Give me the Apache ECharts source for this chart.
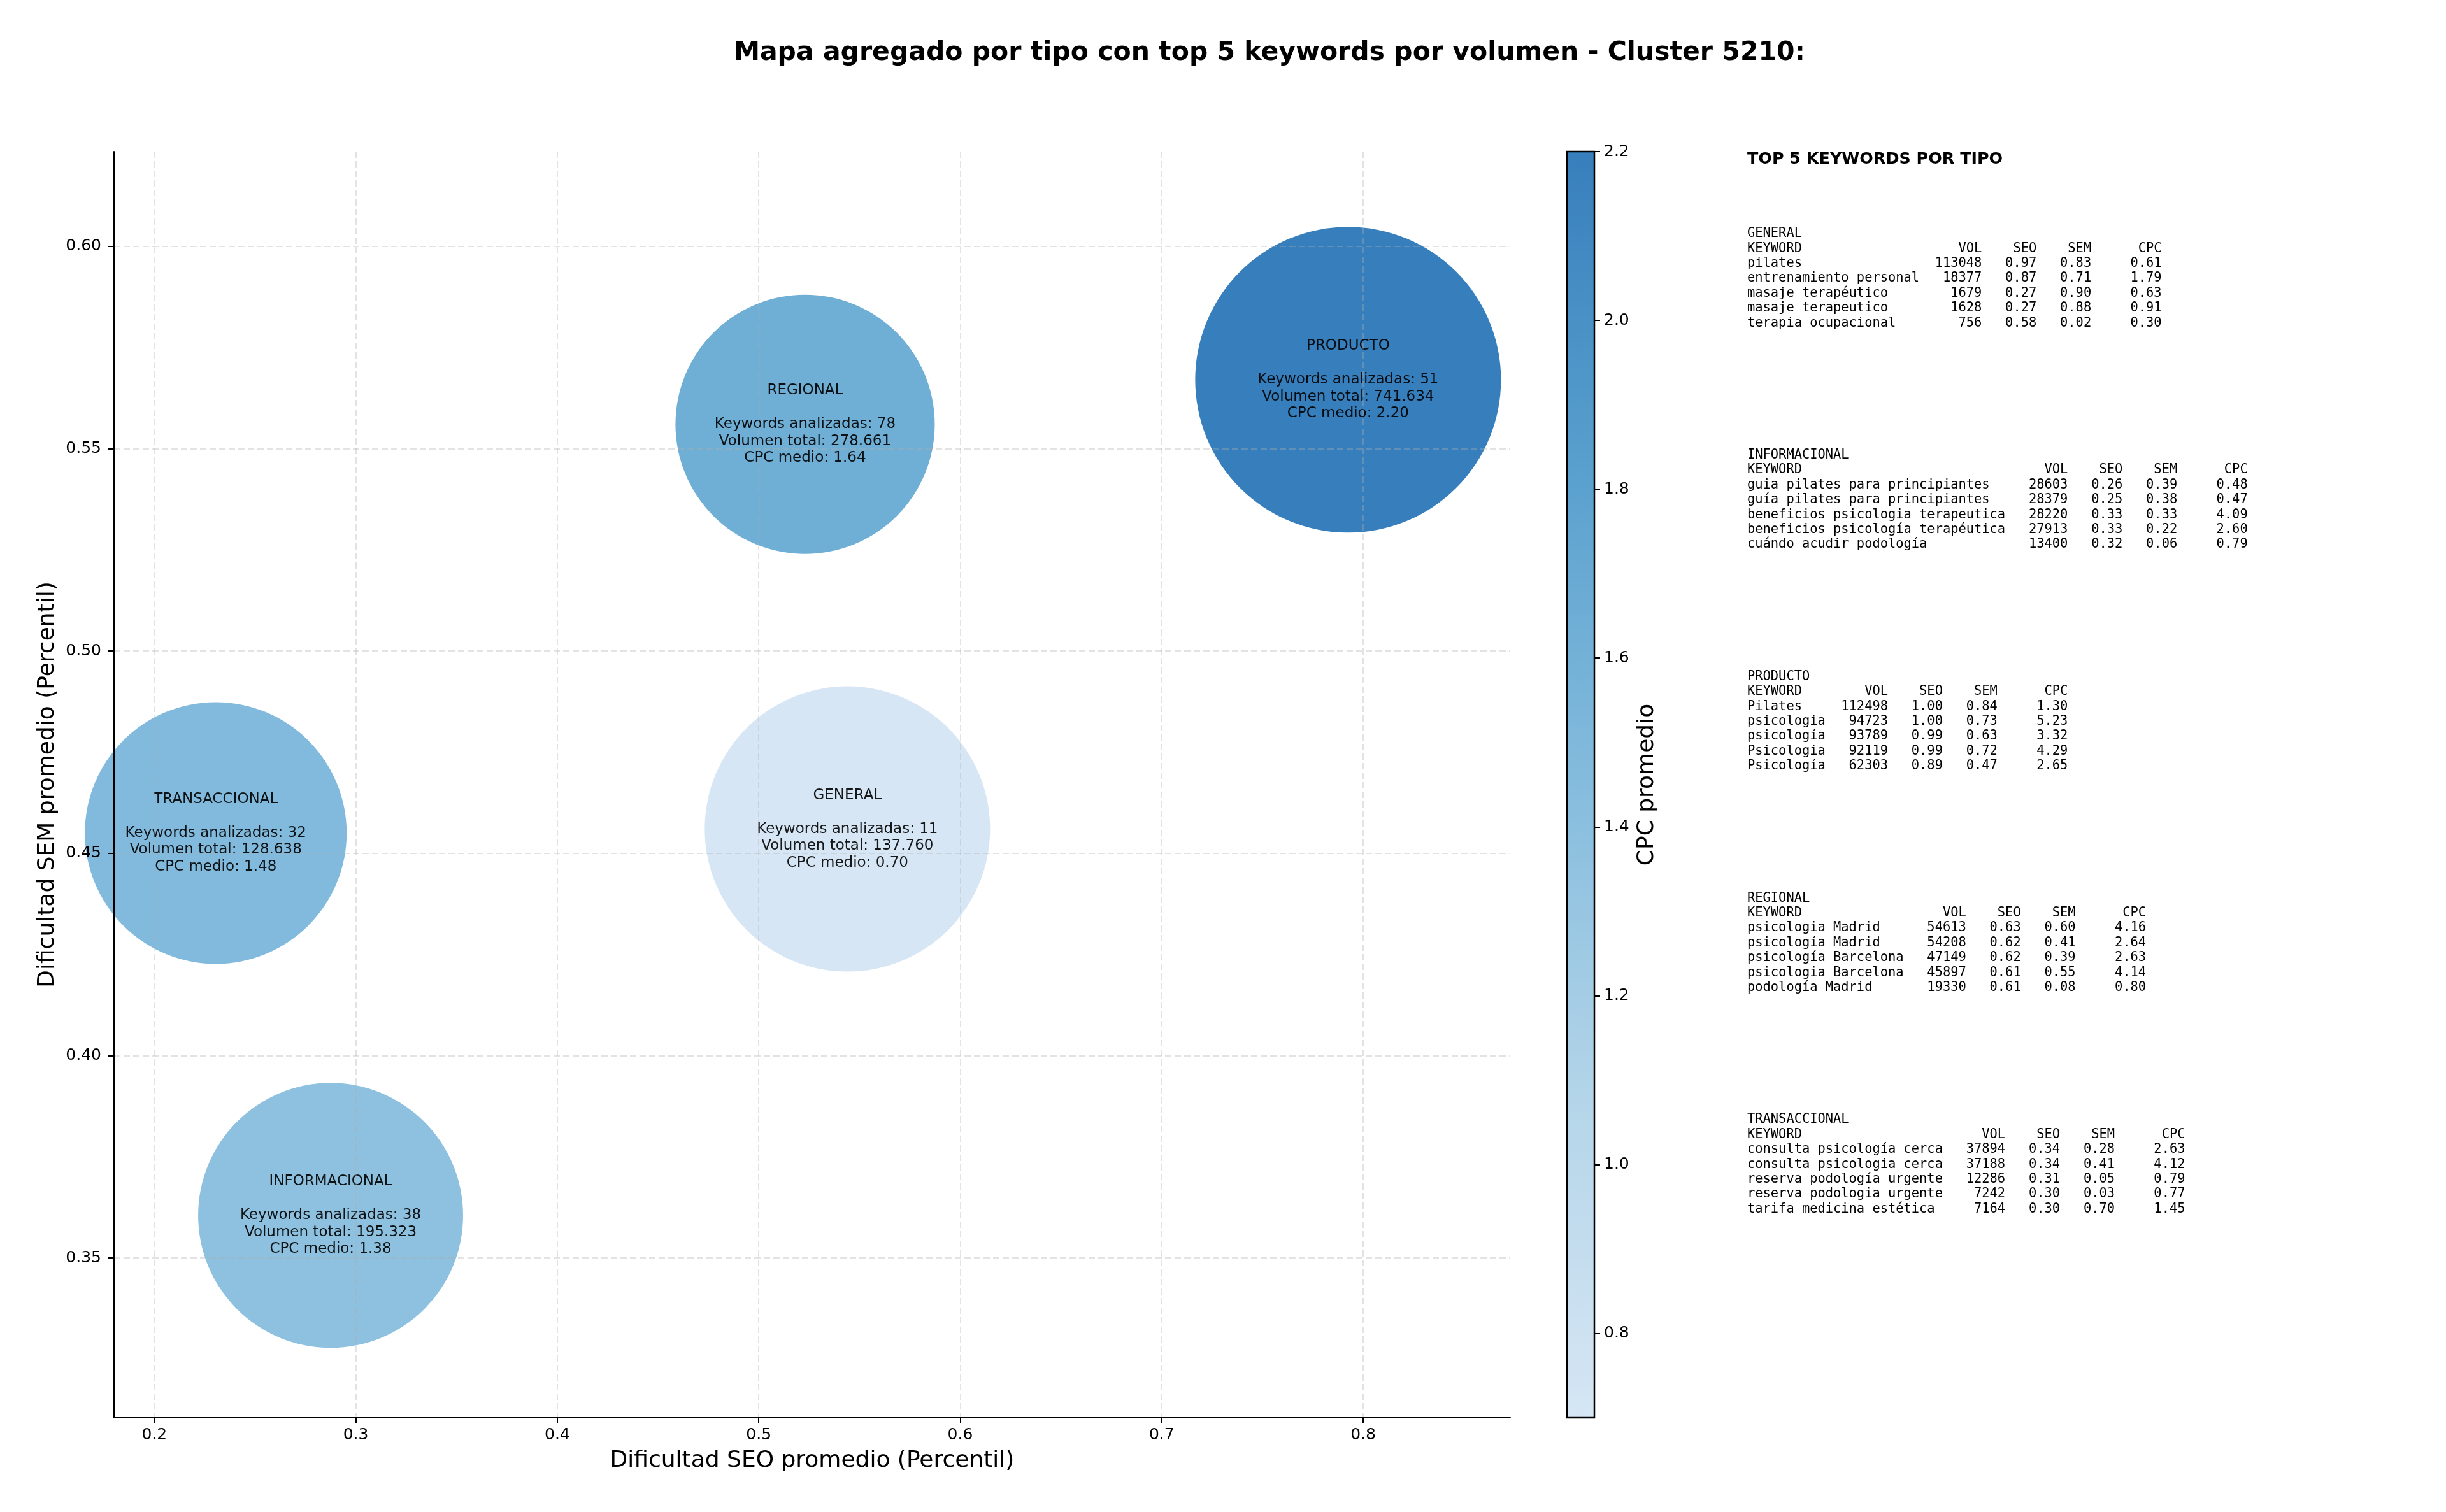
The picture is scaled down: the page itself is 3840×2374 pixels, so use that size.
<!DOCTYPE html>
<html>
<head>
<meta charset="utf-8">
<title>Mapa agregado por tipo - Cluster 5210</title>
<script src="https://cdn.jsdelivr.net/npm/echarts@6/dist/echarts.min.js"></script>
<style>
  html, body { margin: 0; padding: 0; background: #fff; }
  #chart { width: 3840px; height: 2374px; }
</style>
</head>
<body>
<div id="chart"></div>
<script>
// datos agregados por tipo de keyword
var tipos = ['GENERAL', 'INFORMACIONAL', 'PRODUCTO', 'REGIONAL', 'TRANSACCIONAL'];
var seoMedio = [0.544, 0.2875, 0.7925, 0.523, 0.2305];
var semMedio = [0.456, 0.3605, 0.567, 0.556, 0.455];
var cpcMedio = [0.70, 1.38, 2.20, 1.64, 1.48];
var numKeywords = [11, 38, 51, 78, 32];
var volumenTotal = [137760, 195323, 741634, 278661, 128638];
// area del marcador en pt^2 (como el parametro s de matplotlib)
var bubbleArea = [18060, 15570, 20740, 14910, 15200];

var xTicks = [0.2, 0.3, 0.4, 0.5, 0.6, 0.7, 0.8];
var yTicks = [0.35, 0.40, 0.45, 0.50, 0.55, 0.60];
var cbTicks = [0.8, 1.0, 1.2, 1.4, 1.6, 1.8, 2.0, 2.2];

// top 5 keywords por tipo: [keyword, vol, seo, sem, cpc]
var topGeneral = [
  ['pilates', 113048, 0.97, 0.83, 0.61],
  ['entrenamiento personal', 18377, 0.87, 0.71, 1.79],
  ['masaje terapéutico', 1679, 0.27, 0.90, 0.63],
  ['masaje terapeutico', 1628, 0.27, 0.88, 0.91],
  ['terapia ocupacional', 756, 0.58, 0.02, 0.30]
];
var topInformacional = [
  ['guia pilates para principiantes', 28603, 0.26, 0.39, 0.48],
  ['guía pilates para principiantes', 28379, 0.25, 0.38, 0.47],
  ['beneficios psicologia terapeutica', 28220, 0.33, 0.33, 4.09],
  ['beneficios psicología terapéutica', 27913, 0.33, 0.22, 2.60],
  ['cuándo acudir podología', 13400, 0.32, 0.06, 0.79]
];
var topProducto = [
  ['Pilates', 112498, 1.00, 0.84, 1.30],
  ['psicologia', 94723, 1.00, 0.73, 5.23],
  ['psicología', 93789, 0.99, 0.63, 3.32],
  ['Psicologia', 92119, 0.99, 0.72, 4.29],
  ['Psicología', 62303, 0.89, 0.47, 2.65]
];
var topRegional = [
  ['psicologia Madrid', 54613, 0.63, 0.60, 4.16],
  ['psicología Madrid', 54208, 0.62, 0.41, 2.64],
  ['psicología Barcelona', 47149, 0.62, 0.39, 2.63],
  ['psicologia Barcelona', 45897, 0.61, 0.55, 4.14],
  ['podología Madrid', 19330, 0.61, 0.08, 0.80]
];
var topTransaccional = [
  ['consulta psicología cerca', 37894, 0.34, 0.28, 2.63],
  ['consulta psicologia cerca', 37188, 0.34, 0.41, 4.12],
  ['reserva podología urgente', 12286, 0.31, 0.05, 0.79],
  ['reserva podologia urgente', 7242, 0.30, 0.03, 0.77],
  ['tarifa medicina estética', 7164, 0.30, 0.70, 1.45]
];

// tramo de Blues usado para el CPC (crudo y con alpha 0.9 sobre blanco)
var blues = ['#d2e3f3', '#acd0e6', '#77b5d9', '#4795c8', '#2171b5'];
var bluesAlpha = ['#d6e6f4', '#b4d5e9', '#85bcdd', '#59a0ce', '#377fbc'];

var FONT = 'DejaVu Sans';
var MONO = 'DejaVu Sans Mono';

function miles(v) {
  return String(v).replace(/\B(?=(\d{3})+(?!\d))/g, '.');
}

function tabla(tipo, rows) {
  var w = Math.max.apply(null, rows.map(function (r) { return r[0].length; }));
  var lines = [tipo];
  lines.push('KEYWORD'.padEnd(w) + 'VOL'.padStart(8) + 'SEO'.padStart(7) + 'SEM'.padStart(7) + 'CPC'.padStart(9));
  rows.forEach(function (r) {
    lines.push(r[0].padEnd(w) + String(r[1]).padStart(8) + r[2].toFixed(2).padStart(7) +
      r[3].toFixed(2).padStart(7) + r[4].toFixed(2).padStart(9));
  });
  return lines.join('\n');
}

var tablas = [topGeneral, topInformacional, topProducto, topRegional, topTransaccional];

var chart = echarts.init(document.getElementById('chart'));

var graphics = [
  {
    type: 'text',
    style: {
      text: 'Mapa agregado por tipo con top 5 keywords por volumen - Cluster 5210:',
      x: 1993, y: 83,
      font: 'bold 41px "' + FONT + '"',
      fill: '#000',
      align: 'center', textAlign: 'center',
      verticalAlign: 'middle', textVerticalAlign: 'middle'
    }
  },
  {
    type: 'text',
    style: {
      text: 'TOP 5 KEYWORDS POR TIPO',
      x: 2743, y: 250,
      font: 'bold 25.4px "' + FONT + '"',
      fill: '#000',
      align: 'left', textAlign: 'left',
      verticalAlign: 'middle', textVerticalAlign: 'middle'
    }
  }
];
tablas.forEach(function (rows, i) {
  graphics.push({
    type: 'text',
    style: {
      text: tabla(tipos[i], rows),
      x: 2743, y: 355.3 + i * 347.8,
      font: '20.4px "' + MONO + '"',
      lineHeight: 23.4,
      fill: '#000',
      align: 'left', textAlign: 'left',
      verticalAlign: 'top', textVerticalAlign: 'top'
    }
  });
});

var gridLine = { show: true, lineStyle: { color: 'rgba(176,176,176,0.35)', width: 2, type: [10, 5] } };

var option = {
  backgroundColor: '#fff',
  animation: false,
  textStyle: { fontFamily: FONT },
  grid: [
    { left: 179, top: 238, width: 2192, height: 1988, containLabel: false, outerBoundsMode: 'none' },
    { left: 2460, top: 238, width: 43, height: 1988, containLabel: false, outerBoundsMode: 'none' }
  ],
  xAxis: [
    {
      type: 'value', gridIndex: 0, min: 0.18, max: 0.873, z: 3,
      name: 'Dificultad SEO promedio (Percentil)',
      nameLocation: 'middle', nameGap: 50,
      nameTextStyle: { fontSize: 36, color: '#000', fontFamily: FONT },
      axisLine: { show: true, onZero: false, lineStyle: { color: '#000', width: 2 } },
      axisTick: { show: true, customValues: xTicks, length: 9, lineStyle: { color: '#000', width: 2 } },
      axisLabel: {
        customValues: xTicks, fontSize: 25, color: '#000', margin: 15, fontFamily: FONT,
        formatter: function (v) { return v.toFixed(1); }
      },
      splitLine: gridLine
    },
    { type: 'category', gridIndex: 1, data: ['cpc'], show: false }
  ],
  yAxis: [
    {
      type: 'value', gridIndex: 0, min: 0.3105, max: 0.6234, z: 3,
      name: 'Dificultad SEM promedio (Percentil)',
      nameLocation: 'middle', nameGap: 85,
      nameTextStyle: { fontSize: 36, color: '#000', fontFamily: FONT },
      axisLine: { show: true, onZero: false, lineStyle: { color: '#000', width: 2 } },
      axisTick: { show: true, customValues: yTicks, length: 9, lineStyle: { color: '#000', width: 2 } },
      axisLabel: {
        customValues: yTicks, fontSize: 25, color: '#000', margin: 20, fontFamily: FONT,
        formatter: function (v) { return v.toFixed(2); }
      },
      splitLine: gridLine
    },
    {
      type: 'value', gridIndex: 1, position: 'right', min: 0.7, max: 2.2,
      name: 'CPC promedio', nameLocation: 'middle', nameRotate: 90, nameGap: 65,
      nameTextStyle: { fontSize: 36, color: '#000', fontFamily: FONT },
      axisLine: { show: false },
      axisTick: { show: true, customValues: cbTicks, length: 9, lineStyle: { color: '#000', width: 2 } },
      axisLabel: {
        customValues: cbTicks, fontSize: 25, color: '#000', margin: 15, fontFamily: FONT,
        formatter: function (v) { return v.toFixed(1); }
      },
      splitLine: { show: false }
    }
  ],
  visualMap: {
    type: 'continuous', show: false, seriesIndex: 0, dimension: 2,
    min: 0.7, max: 2.2, inRange: { color: blues }
  },
  series: [
    {
      type: 'scatter', xAxisIndex: 0, yAxisIndex: 0, clip: false, silent: true, z: 2,
      data: tipos.map(function (t, i) { return [seoMedio[i], semMedio[i], cpcMedio[i]]; }),
      symbolSize: function (v, p) { return Math.sqrt(bubbleArea[p.dataIndex]) * 240 / 72; },
      itemStyle: { opacity: 0.9 },
      label: {
        show: true, position: 'inside', color: '#000', fontSize: 23, lineHeight: 26.5,
        fontFamily: FONT, align: 'center',
        formatter: function (p) {
          var i = p.dataIndex;
          return tipos[i] + '\n\nKeywords analizadas: ' + numKeywords[i] +
            '\nVolumen total: ' + miles(volumenTotal[i]) +
            '\nCPC medio: ' + cpcMedio[i].toFixed(2);
        }
      },
      emphasis: { disabled: true }
    },
    {
      // barra de color
      type: 'custom', xAxisIndex: 1, yAxisIndex: 1, clip: false, silent: true,
      data: [[0, 0.7, 2.2]],
      encode: { x: 0, y: [1, 2] },
      renderItem: function (params, api) {
        var lo = api.coord([0, api.value(1)]);
        var hi = api.coord([0, api.value(2)]);
        var w = api.size([1, 0])[0];
        var stops = bluesAlpha.map(function (c, k) { return { offset: k / (bluesAlpha.length - 1), color: c }; });
        return {
          type: 'rect',
          shape: { x: lo[0] - w / 2, y: hi[1], width: w, height: lo[1] - hi[1] },
          style: { fill: new echarts.graphic.LinearGradient(0, 1, 0, 0, stops), stroke: '#000', lineWidth: 2.5 }
        };
      }
    }
  ],
  graphic: graphics
};

chart.setOption(option);
</script>
</body>
</html>
